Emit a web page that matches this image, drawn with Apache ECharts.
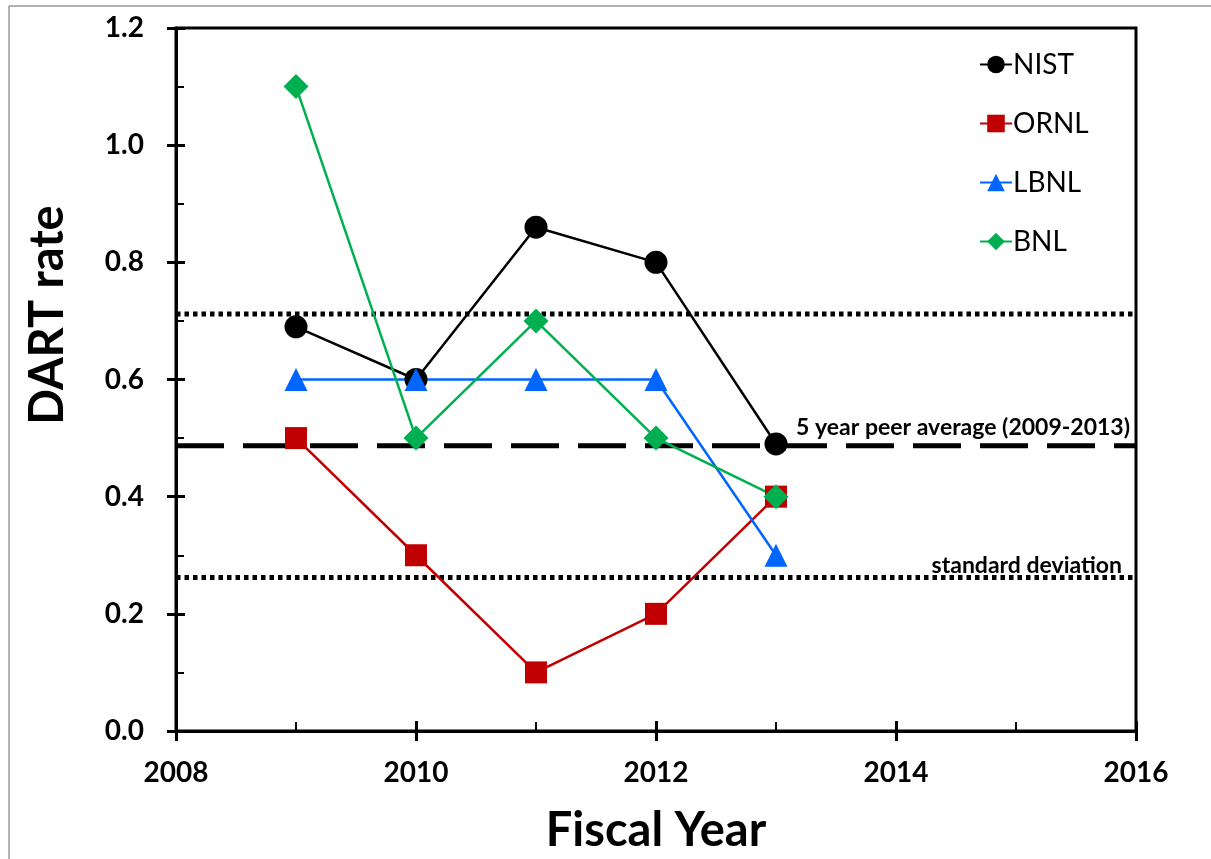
<!DOCTYPE html>
<html>
<head>
<meta charset="utf-8">
<script src="https://cdn.jsdelivr.net/npm/echarts@6/dist/echarts.min.js"></script>
<style>
html,body{margin:0;padding:0;background:#fff;}
#chart{width:1211px;height:859px;}
</style>
</head>
<body>
<div id="chart"></div>
<script>
const years = [2009, 2010, 2011, 2012, 2013];
const nist = [0.69, 0.60, 0.86, 0.80, 0.49];
const ornl = [0.50, 0.30, 0.10, 0.20, 0.40];
const lbnl = [0.60, 0.60, 0.60, 0.60, 0.30];
const bnl  = [1.10, 0.50, 0.70, 0.50, 0.40];
const peerAverage = 0.487;
const stdUpper = 0.712;
const stdLower = 0.262;
const xRange = [2008, 2016];
const yRange = [0, 1.2];
const seriesNames = ['NIST', 'ORNL', 'LBNL', 'BNL'];
const avgLabel = '5 year peer average (2009-2013)';
const stdLabel = 'standard deviation';

const FONT = 'Lato, "Open Sans", "Liberation Sans", sans-serif';
const pair = (vals) => years.map((y, i) => [y, vals[i]]);
const hline = (v) => [[xRange[0], v], [xRange[1], v]];

const chart = echarts.init(document.getElementById('chart'), null, {renderer: 'canvas'});

const mkSeries = (name, vals, color, symbol, size) => ({
  name: name, type: 'line', data: pair(vals), xAxisIndex: 0, yAxisIndex: 0,
  symbol: symbol, symbolSize: size,
  lineStyle: {color: color, width: 2.5},
  itemStyle: {color: color},
  z: 5, animation: false
});

const option = {
  animation: false,
  backgroundColor: '#fff',
  grid: {left: 176, right: 75, top: 28, bottom: 127, show: true, borderColor: '#000', borderWidth: 3, containLabel: false},
  legend: {
    data: seriesNames,
    orient: 'vertical', left: 974, top: 44,
    itemWidth: 32, itemHeight: 22, itemGap: 28,
    textStyle: {fontFamily: FONT, fontSize: 28, color: '#000', lineHeight: 31, padding: [0,0,0,-4]}
  },
  xAxis: [{
    type: 'value', min: xRange[0], max: xRange[1], interval: 2, position: 'bottom',
    axisLine: {show: true, lineStyle: {color: '#000', width: 3}},
    axisTick: {show: true, inside: false, length: 10, lineStyle: {color: '#000', width: 3}},
    axisLabel: {fontFamily: FONT, fontWeight: 'bold', fontSize: 28, color: '#000', margin: 28, formatter: v => String(v)},
    splitLine: {show: false},
    name: 'Fiscal Year', nameLocation: 'middle', nameGap: 76,
    nameTextStyle: {fontFamily: FONT, fontWeight: 'bold', fontSize: 47, color: '#000'}
  }, {
    type: 'value', min: xRange[0], max: xRange[1], interval: 2, position: 'bottom', offset: 0,
    axisLine: {show: false},
    axisTick: {show: true, inside: true, length: 10, lineStyle: {color: '#000', width: 3}},
    minorTick: {show: true, splitNumber: 2, length: 9, lineStyle: {color: '#000', width: 2}},
    axisLabel: {show: false}, splitLine: {show: false}
  }],
  yAxis: [{
    type: 'value', min: yRange[0], max: yRange[1], interval: 0.2, position: 'left',
    axisLine: {show: true, lineStyle: {color: '#000', width: 3}},
    axisTick: {show: true, inside: false, length: 9, lineStyle: {color: '#000', width: 3}},
    axisLabel: {fontFamily: FONT, fontWeight: 'bold', fontSize: 28, color: '#000', margin: 32, formatter: v => v.toFixed(1)},
    splitLine: {show: false}
  }, {
    type: 'value', min: yRange[0], max: yRange[1], interval: 0.2, position: 'left', offset: 0,
    axisLine: {show: false},
    axisTick: {show: true, inside: true, length: 9, lineStyle: {color: '#000', width: 3}},
    minorTick: {show: true, splitNumber: 2, length: 8, lineStyle: {color: '#000', width: 2}},
    axisLabel: {show: false}, splitLine: {show: false}
  }],
  series: [
    {type: 'line', data: hline(stdUpper), symbol: 'none', silent: true, z: 3,
     lineStyle: {color: '#000', width: 5, type: [4.5, 4]}},
    {type: 'line', data: hline(stdLower), symbol: 'none', silent: true, z: 3,
     lineStyle: {color: '#000', width: 5, type: [4.5, 4]}},
    {type: 'line', data: hline(peerAverage), symbol: 'none', silent: true, z: 3,
     lineStyle: {color: '#000', width: 5, type: [48, 19]}},
    mkSeries('NIST', nist, '#000000', 'circle', 23),
    mkSeries('ORNL', ornl, '#C00000', 'rect', 22),
    mkSeries('LBNL', lbnl, '#0066FF', 'triangle', 23),
    mkSeries('BNL', bnl, '#00B050', 'diamond', 25)
  ],
  graphic: [
    {type: 'line', shape: {x1: 9, y1: 6, x2: 1211, y2: 6}, style: {stroke: '#999', lineWidth: 1.5}, silent: true},
    {type: 'line', shape: {x1: 9, y1: 6, x2: 9, y2: 859}, style: {stroke: '#999', lineWidth: 1.5}, silent: true},
    {type: 'text', x: 48, y: 315, rotation: Math.PI / 2,
     style: {text: 'DART rate', fontFamily: FONT, fontWeight: 'bold', fontSize: 47, fill: '#000', align: 'center', verticalAlign: 'middle'}},
    {type: 'text', x: 1130, y: 428,
     style: {text: avgLabel, fontFamily: FONT, fontWeight: 'bold', fontSize: 23, fill: '#000', align: 'right', verticalAlign: 'middle'}},
    {type: 'text', x: 1122, y: 566,
     style: {text: stdLabel, fontFamily: FONT, fontWeight: 'bold', fontSize: 23, fill: '#000', align: 'right', verticalAlign: 'middle'}}
  ]
};
chart.setOption(option);
</script>
</body>
</html>
